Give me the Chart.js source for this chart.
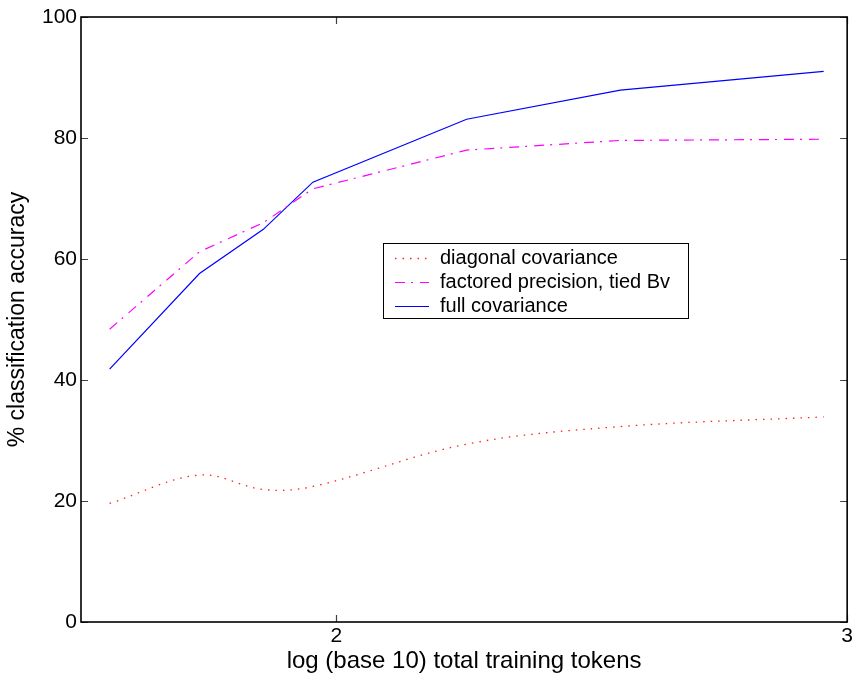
<!DOCTYPE html>
<html>
<head>
<meta charset="utf-8">
<script src="https://cdn.jsdelivr.net/npm/chart.js@4.4.1/dist/chart.umd.min.js"></script>
<style>
  html, body { margin: 0; padding: 0; background: #fff; }
  #wrap { width: 855px; height: 680px; position: relative; }
</style>
</head>
<body>
<div id="wrap"><canvas id="c" width="855" height="680"></canvas></div>
<script>
// ---- data ----
const xValues = [1.556, 1.732, 1.857, 1.954, 2.255, 2.556, 2.954];
const diagonalCov = [19.6, 24.3, 21.9, 22.4, 29.4, 32.3, 33.9];
const factoredPrec = [48.4, 61.2, 66.0, 71.6, 78.0, 79.6, 79.8];
const fullCov = [41.8, 57.6, 64.9, 72.7, 83.1, 87.9, 91.0];
const seriesLabels = ['diagonal covariance', 'factored precision, tied Bv', 'full covariance'];
const xTicks = [2, 3];
const yTicks = [0, 20, 40, 60, 80, 100];
const xTitle = 'log (base 10) total training tokens';
const yTitle = '% classification accuracy';

const FONT = '"Liberation Sans", Arial, Helvetica, sans-serif';

function pts(ys) { return xValues.map((x, i) => ({ x: x, y: ys[i] })); }

// frame, inward ticks and legend box
const matlabPlugin = {
  id: 'matlab',
  afterDatasetsDraw(chart) {
    const { ctx, chartArea: a, scales } = chart;
    const xs = scales.x, ys = scales.y;
    ctx.save();
    // inward ticks
    ctx.strokeStyle = '#404040';
    ctx.lineWidth = 1.2;
    const tl = 7;
    ctx.beginPath();
    yTicks.forEach(v => {
      const py = Math.round(ys.getPixelForValue(v)) + 0.5;
      ctx.moveTo(a.left, py); ctx.lineTo(a.left + tl, py);
      ctx.moveTo(a.right, py); ctx.lineTo(a.right - tl, py);
    });
    xTicks.forEach(v => {
      const px = Math.round(xs.getPixelForValue(v)) + 0.5;
      ctx.moveTo(px, a.bottom); ctx.lineTo(px, a.bottom - tl);
      ctx.moveTo(px, a.top); ctx.lineTo(px, a.top + tl);
    });
    ctx.stroke();
    // frame
    ctx.strokeStyle = '#000';
    ctx.lineWidth = 1.6;
    ctx.strokeRect(a.left, a.top, a.right - a.left, a.bottom - a.top);

    // legend
    const bx = 383, by = 243, bw = 305, bh = 75;
    ctx.fillStyle = '#fff';
    ctx.fillRect(bx, by, bw, bh);
    ctx.strokeStyle = '#000';
    ctx.lineWidth = 1;
    ctx.strokeRect(bx + 0.5, by + 0.5, bw, bh);
    const rows = [258, 282, 306];
    ctx.font = '20px ' + FONT;
    ctx.textBaseline = 'middle';
    ctx.textAlign = 'left';
    chart.data.datasets.forEach((ds, i) => {
      const y = rows[i] + 0.5;
      ctx.save();
      ctx.strokeStyle = ds.borderColor;
      ctx.lineWidth = ds.borderWidth;
      ctx.setLineDash(ds.borderDash || []);
      ctx.beginPath();
      ctx.moveTo(395, y); ctx.lineTo(429, y);
      ctx.stroke();
      ctx.restore();
      ctx.fillStyle = '#000';
      ctx.fillText(ds.label, 440, rows[i]);
    });
    ctx.restore();
  }
};

new Chart(document.getElementById('c'), {
  type: 'line',
  data: {
    datasets: [
      { label: seriesLabels[0], data: pts(diagonalCov), borderColor: '#ff2020', borderWidth: 1.3,
        borderDash: [1.5, 6], tension: 0.35, pointRadius: 0, fill: false },
      { label: seriesLabels[1], data: pts(factoredPrec), borderColor: '#ff00ff', borderWidth: 1.2,
        borderDash: [10, 6, 2, 7], tension: 0, pointRadius: 0, fill: false },
      { label: seriesLabels[2], data: pts(fullCov), borderColor: '#0000ff', borderWidth: 1.2,
        tension: 0, pointRadius: 0, fill: false }
    ]
  },
  options: {
    responsive: false,
    animation: false,
    devicePixelRatio: 1,
    layout: { padding: { left: 0, right: 7, top: 17, bottom: 0 } },
    plugins: { legend: { display: false }, tooltip: { enabled: false } },
    scales: {
      x: {
        type: 'linear', min: 1.5, max: 3,
        afterBuildTicks: s => { s.ticks = xTicks.map(v => ({ value: v })); },
        afterFit: s => { s.height = 58; },
        grid: { display: false, drawTicks: false }, border: { display: false },
        ticks: { color: '#000', font: { family: FONT, size: 21 }, padding: 2, maxRotation: 0,
                 callback: v => String(v) },
        title: { display: true, text: xTitle, color: '#000', font: { family: FONT, size: 24 },
                 padding: { top: 0, bottom: 4 } }
      },
      y: {
        type: 'linear', min: 0, max: 100,
        afterBuildTicks: s => { s.ticks = yTicks.map(v => ({ value: v })); },
        afterFit: s => { s.width = 81; },
        grid: { display: false, drawTicks: false }, border: { display: false },
        ticks: { color: '#000', font: { family: FONT, size: 21 }, padding: 4,
                 callback: v => String(v) },
        title: { display: true, text: yTitle, color: '#000', font: { family: FONT, size: 23 },
                 padding: { top: 4, bottom: 0 } }
      }
    }
  },
  plugins: [matlabPlugin]
});
</script>
</body>
</html>
